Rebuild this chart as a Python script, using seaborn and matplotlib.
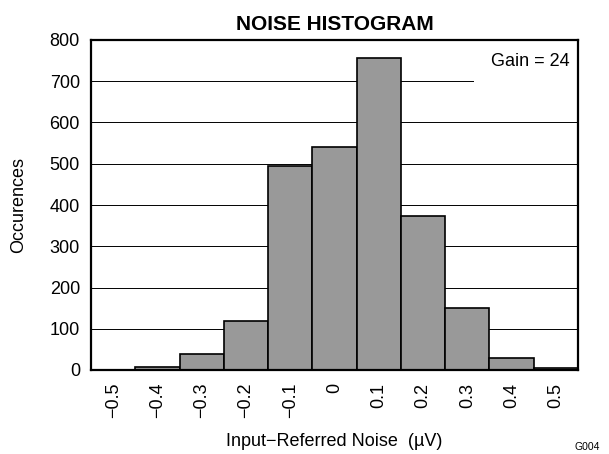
import numpy as np
import pandas as pd
import matplotlib
matplotlib.use("Agg")
import matplotlib.pyplot as plt
import seaborn as sns

# bin centres (uV) and counts
noise_uv = [-0.5, -0.4, -0.3, -0.2, -0.1, 0.0, 0.1, 0.2, 0.3, 0.4, 0.5]
counts = [1, 8, 40, 119, 494, 541, 756, 373, 150, 28, 4]
tick_labels = ["\u22120.5", "\u22120.4", "\u22120.3", "\u22120.2", "\u22120.1", "0",
               "0.1", "0.2", "0.3", "0.4", "0.5"]

df = pd.DataFrame({"noise": noise_uv, "count": counts})
edges = [round(v, 2) for v in np.arange(-0.55, 0.56, 0.1)]

sns.set_theme(style="white")
plt.rcParams["font.family"] = ["Liberation Sans", "DejaVu Sans"]
plt.rcParams["text.color"] = "black"
plt.rcParams["axes.labelcolor"] = "black"
plt.rcParams["xtick.color"] = "black"
plt.rcParams["ytick.color"] = "black"

fig = plt.figure(figsize=(6.09, 4.54), dpi=100)
ax = fig.add_axes([91 / 609, 1 - 370 / 454, 487 / 609, 330 / 454])

for y in range(100, 800, 100):
    ax.axhline(y, color="black", lw=0.7, zorder=0)

sns.histplot(data=df, x="noise", weights="count", bins=edges, ax=ax,
             color="#999999", alpha=1, edgecolor="black", linewidth=1.2, zorder=2)

ax.set_xlim(-0.55, 0.55)
ax.set_ylim(0, 800)
ax.set_xticks(noise_uv)
ax.set_xticklabels(tick_labels, rotation=90, fontsize=13)
ax.set_yticks(range(0, 801, 100))
ax.tick_params(axis="y", labelsize=13, length=0, pad=8)
ax.tick_params(axis="x", length=0, pad=9)
for s in ax.spines.values():
    s.set_color("black")
    s.set_linewidth(1.6)

ax.set_title("NOISE HISTOGRAM", fontsize=15, fontweight="bold", pad=7)
ax.set_xlabel("Input\u2212Referred Noise  (\u00b5V)", fontsize=13)
ax.set_ylabel("Occurences", fontsize=13)
ax.xaxis.set_label_coords(0.5, -63 / 330)
ax.yaxis.set_label_coords(-64 / 487, 0.5)

ax.text(0.53, 749, "Gain = 24", ha="right", va="center", fontsize=13,
        bbox=dict(facecolor="white", edgecolor="none", pad=12), zorder=1)

fig.text(600 / 609, 1.5 / 454, "G004", ha="right", va="bottom", fontsize=7.5)

fig.savefig("out.png", dpi=100)
